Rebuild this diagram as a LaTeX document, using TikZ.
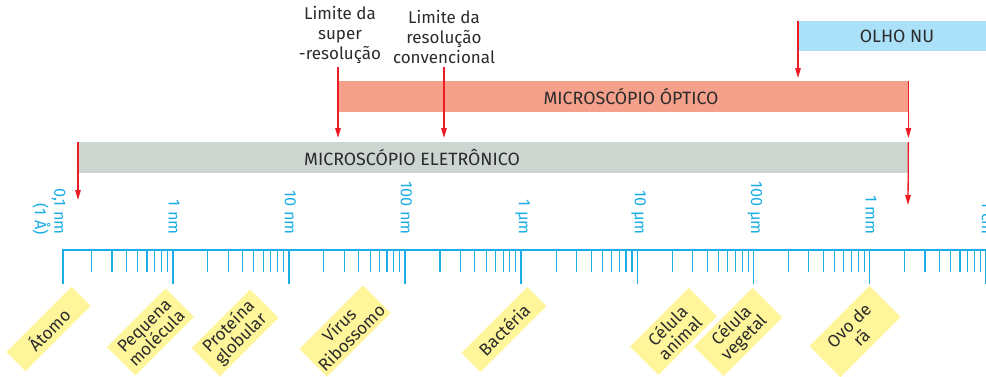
\documentclass[tikz,border=0pt]{standalone}
\usepackage{fontspec}
\setmainfont{Fira Sans}
\usetikzlibrary{arrows.meta, positioning}
\definecolor{scalecyan}{HTML}{1CADE4}
\definecolor{bargray}{HTML}{CDD5D0}
\definecolor{barsalmon}{HTML}{F5A08A}
\definecolor{barblue}{HTML}{ABE0F9}
\definecolor{tagyellow}{HTML}{FFF59B}
\definecolor{limitred}{HTML}{ED1C24}
\definecolor{darktext}{HTML}{2B2B2B}

\begin{document}
\begin{tikzpicture}[x=1pt, y=-1pt, font=\fontsize{17}{20}\selectfont, text=darktext,
  barbase/.style={inner sep=0pt, anchor=north west, minimum height=31pt},
  barE/.style={barbase, fill=bargray},
  barO/.style={barbase, fill=barsalmon},
  barN/.style={barbase, fill=barblue, minimum height=30pt},
  bartext/.style={font=\fontsize{17.8}{20}\selectfont},
  limlbl/.style={align=center, inner sep=0pt, anchor=south},
  scalelbl/.style={rotate=-90, anchor=east, inner sep=0pt, text=scalecyan,
                   font=\fontsize{16.3}{18}\selectfont},
  tag/.style={rotate=45, fill=tagyellow, align=center, inner sep=0pt,
              font=\fontsize{17.2}{17.5}\selectfont},
  arr/.style={-{Triangle[length=10pt, width=5.5pt]}, line width=1.3pt, limitred},
  majortick/.style={line width=1.6pt, scalecyan},
  minortick/.style={line width=1.1pt, scalecyan},
]
  \useasboundingbox (0,0) rectangle (986,376);
  \clip (0,0) rectangle (986,376);

  % bars
  \node[barN, minimum width=188pt] (olho) at (798,21) {};
  \node[barO, minimum width=570pt] (optico) at (338,81) {};
  \node[barE, minimum width=830pt] (eletronico) at (78,142) {};
  \node[bartext] (olhoT) at (897,36) {OLHO NU};
  \node[bartext] (opticoT) at (631,96.5) {MICROSCÓPIO ÓPTICO};
  \node[bartext] (eletronicoT) at (412,157.5) {MICROSCÓPIO ELETRÔNICO};

  % resolution limits
  \node[limlbl] (limSuper) at (340,64) {Limite da\\super\\-resolução};
  \node[limlbl] (limConv) at (444,64) {Limite da\\resolução\\convencional};
  \coordinate (fimEletr) at (78,200);
  \coordinate (fimOptico) at (908,205);

  \draw[arr] (olho.north west) -- ([yshift=3pt]optico.north -| olho.west);
  \draw[arr] (optico.north east) -- ([yshift=4pt]eletronico.north east);
  \draw[arr] (eletronico.north east) -- (fimOptico);
  \draw[arr, shorten <=3pt] (limSuper.south -| optico.west) -- ([yshift=4pt]eletronico.north -| optico.west);
  \draw[arr, shorten <=3pt] (limConv.south) -- ([yshift=4pt]eletronico.north -| limConv.south);
  \draw[arr] (eletronico.north west) -- (fimEletr);

  % scale
  \draw[scalecyan, line width=2pt] (63,250) -- (990,250);
  \draw[majortick] (63,249) -- (63,284);
  \foreach \k in {1,...,8}
    \draw[majortick] ({56.6+116.14*\k},250) -- ++(0,34);
  \foreach \d in {0,...,8}
    \foreach \m in {2,...,9}
      \draw[minortick] ({56.6+116.14*(\d+log10(\m))},250) -- ++(0,22);

  \node[scalelbl, align=right] (lbl0) at (49,235) {0,1 nm\\(1 Å)};
  \foreach \lbl [count=\k] in {1 nm, 10 nm, 100 nm, 1 µm, 10 µm, 100 µm, 1 mm, 1 cm}
    \node[scalelbl] (lbl\k) at ({58+116.14*\k},235) {\lbl};

  % objects
  \node[tag, minimum width=92pt, minimum height=27pt] (atomo) at (48.5,329) {Átomo};
  \node[tag, minimum width=83pt, minimum height=40pt] (molecula) at (150.5,332) {Pequena\\molécula};
  \node[tag, minimum width=83pt, minimum height=40pt] (proteina) at (235,333) {Proteína\\globular};
  \node[tag, minimum width=90pt, minimum height=39pt] (virus) at (345,331) {Vírus\\Ribossomo};
  \node[tag, minimum width=93pt, minimum height=27pt] (bacteria) at (504,329.5) {Bactéria};
  \node[tag, minimum width=83pt, minimum height=40pt] (animal) at (673.5,331.5) {Célula\\animal};
  \node[tag, minimum width=83pt, minimum height=42pt] (vegetal) at (738,332) {Célula\\vegetal};
  \node[tag, minimum width=85pt, minimum height=44pt] (ovo) at (855,331.5) {Ovo de\\rã};
\end{tikzpicture}
\end{document}
